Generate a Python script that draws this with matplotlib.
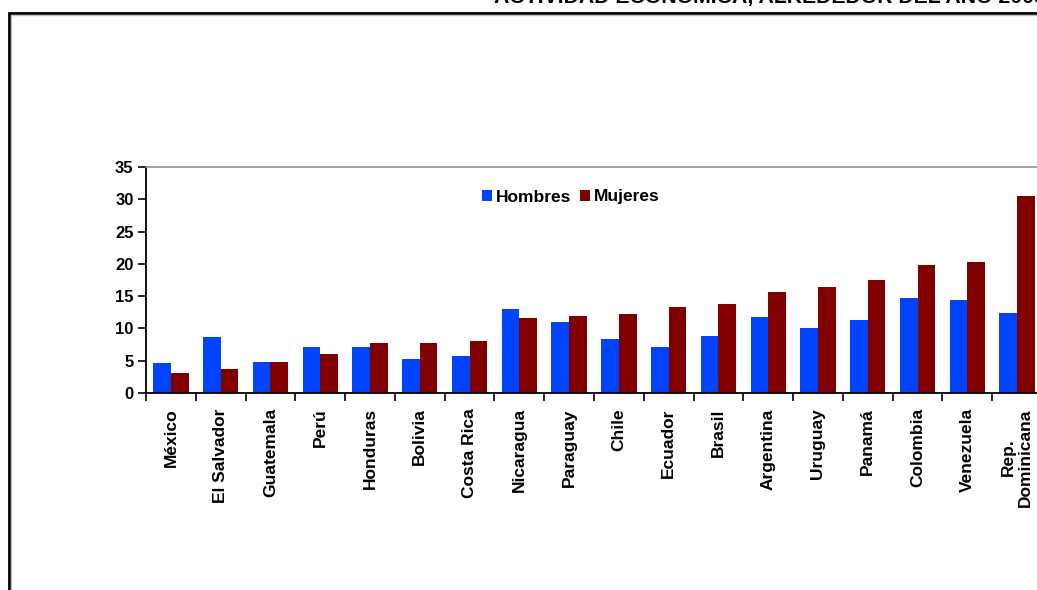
import matplotlib
matplotlib.use("Agg")
import matplotlib.pyplot as plt
import numpy as np
from matplotlib.patches import Rectangle

plt.rcParams['font.family'] = ['Liberation Sans', 'DejaVu Sans']
plt.rcParams['font.weight'] = 'bold'

paises = ["México", "El Salvador", "Guatemala", "Perú", "Honduras", "Bolivia",
          "Costa Rica", "Nicaragua", "Paraguay", "Chile", "Ecuador", "Brasil",
          "Argentina", "Uruguay", "Panamá", "Colombia", "Venezuela", "Rep.\nDominicana"]
hombres = [4.6, 8.7, 4.8, 7.1, 7.1, 5.2, 5.7, 13.0, 11.0, 8.3, 7.2, 8.8,
           11.8, 10.1, 11.3, 14.7, 14.4, 12.4]
mujeres = [3.1, 3.7, 4.8, 6.0, 7.7, 7.7, 8.0, 11.6, 11.9, 12.2, 13.3, 13.8,
           15.6, 16.4, 17.5, 19.8, 20.3, 30.5]
yticks = [0, 5, 10, 15, 20, 25, 30, 35]
titulo = "ACTIVIDAD ECONÓMICA, ALREDEDOR DEL AÑO 2005"

W, H = 1037, 590
fig = plt.figure(figsize=(W / 100, H / 100), dpi=100)

# outer frame (partly cut by figure edge)
fig.patches.append(Rectangle((8.5 / W, -0.05), 1.2, (H - 13) / H + 0.05,
                             transform=fig.transFigure, fill=False,
                             edgecolor='black', lw=2.0, zorder=0))
fig.patches.append(Rectangle((10.5 / W, -0.05), 1.2, (H - 15) / H + 0.05,
                             transform=fig.transFigure, fill=False,
                             edgecolor='#c0c0c0', lw=1.0, zorder=0))

fig.text(494 / W, (H - 3.5) / H, titulo, fontsize=15.3, fontweight='bold',
         ha='left', va='baseline')

ax = fig.add_axes([146 / W, (H - 393) / H, 896 / W, 226 / H])
x = np.arange(len(paises))
w = 0.355
ax.bar(x - w / 2, hombres, w, color='#0043FF', label='Hombres')
ax.bar(x + w / 2, mujeres, w, color='#800000', label='Mujeres')

ax.set_xlim(-0.5, len(paises) - 0.5)
ax.set_ylim(0, 35)
ax.set_yticks(yticks)
ax.set_yticklabels([str(v) for v in yticks], fontsize=12, fontweight='bold')
ax.set_xticks(np.arange(len(paises) + 1) - 0.5, minor=False)
ax.set_xticklabels([])
ax.set_xticks(x, minor=True)
ax.set_xticklabels(paises, minor=True, rotation=90, fontsize=12.5,
                   fontweight='bold', ha='center', va='top', multialignment='center')
ax.tick_params(axis='x', which='minor', length=0, pad=11)
ax.tick_params(axis='x', which='major', length=6, width=1.2, direction='out')
ax.tick_params(axis='y', length=6, width=1.2, direction='out', pad=3)

for s in ['left', 'bottom']:
    ax.spines[s].set_color('black')
    ax.spines[s].set_linewidth(1.3)
ax.spines['top'].set_color('#909090')
ax.spines['top'].set_linewidth(1.2)
ax.spines['right'].set_visible(False)

leg = ax.legend(loc='center left', bbox_to_anchor=((482 - 146) / 896, (393 - 197) / 226),
                ncol=2, frameon=False, fontsize=12.5, handlelength=0.6,
                handleheight=0.6, handletextpad=0.2, columnspacing=0.5,
                borderpad=0.0, borderaxespad=0.0)
for t in leg.get_texts():
    t.set_fontweight('bold')

fig.savefig("out.png", dpi=100)
